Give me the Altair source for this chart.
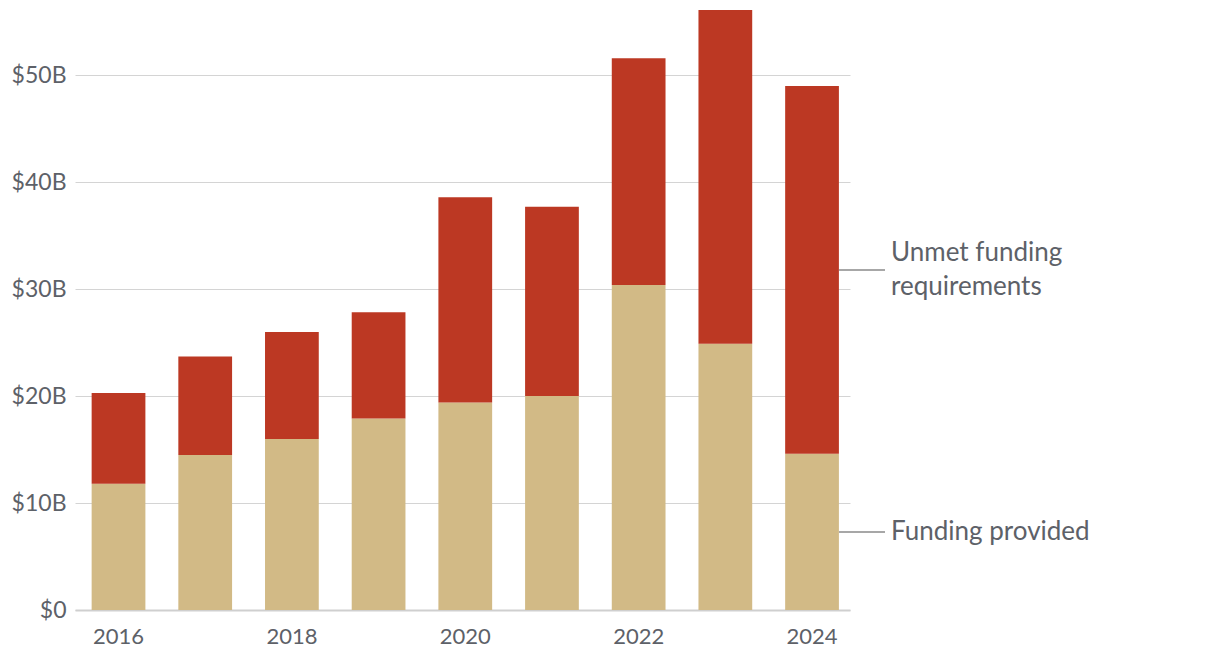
import altair as alt
import pandas as pd

years = ["2016", "2017", "2018", "2019", "2020", "2021", "2022", "2023", "2024"]
funding_provided = [11.8, 14.5, 16.0, 17.9, 19.4, 20.0, 30.4, 24.9, 14.6]
total_requirements = [20.3, 23.7, 26.0, 27.85, 38.6, 37.7, 51.6, 56.1, 49.0]
series_names = ["Funding provided", "Unmet funding requirements"]
series_colors = ["#D2BA86", "#BC3823"]
y_ticks = [0, 10, 20, 30, 40, 50]

rows = []
for y, f, t in zip(years, funding_provided, total_requirements):
    rows.append({"year": y, "series": series_names[0], "value": f, "order": 0})
    rows.append({"year": y, "series": series_names[1], "value": round(t - f, 3), "order": 1})
df = pd.DataFrame(rows)

last_f = funding_provided[-1]
last_t = total_requirements[-1]
ann_f = pd.DataFrame([{"year": years[-1], "mid": last_f / 2, "label": "Funding provided"}])
ann_u = pd.DataFrame([{"year": years[-1], "mid": (last_f + last_t) / 2,
                       "label": ["Unmet funding", "requirements"]}])
ann = pd.concat([ann_f[["year", "mid"]], ann_u[["year", "mid"]]])

FONT = "Lato"
TXT = "#5d6168"

x = alt.X("year:N", scale=alt.Scale(paddingInner=0.38, paddingOuter=0.16, align=0.6),
          axis=alt.Axis(title=None, labelAngle=0, ticks=False, domain=True,
                        domainColor="#cfcfcf", domainWidth=2,
                        labelExpr="toNumber(datum.value) % 2 == 0 ? datum.label : ''",
                        labelFontSize=22, labelColor=TXT, labelFont=FONT, labelPadding=16))
yscale = alt.Scale(domain=[0, 56.2], nice=False)

bars = alt.Chart(df).mark_bar().encode(
    x=x,
    y=alt.Y("value:Q", stack="zero", scale=yscale,
            axis=alt.Axis(title=None, values=y_ticks, domain=False, ticks=False,
                          gridColor="#d4d4d4", gridWidth=1,
                          labelExpr="'$' + datum.value + (datum.value == 0 ? '' : 'B')",
                          labelFontSize=23, labelColor=TXT, labelFont=FONT, labelPadding=9)),
    color=alt.Color("series:N", scale=alt.Scale(domain=series_names, range=series_colors), legend=None),
    order=alt.Order("order:Q"),
)

rules = alt.Chart(ann).mark_rule(color="#8a8a8a", strokeWidth=1.5, xOffset=27, x2Offset=73).encode(
    x=alt.X("year:N"), x2=alt.X2("year"), y=alt.Y("mid:Q", scale=yscale),
)

text_f = alt.Chart(ann_f).mark_text(align="left", baseline="middle", dx=79, font=FONT, fontSize=26,
                                    color=TXT).encode(
    x=alt.X("year:N"), y=alt.Y("mid:Q", scale=yscale), text="label",
)
text_u = alt.Chart(ann_u).mark_text(align="left", baseline="middle", dx=79, dy=-17, font=FONT,
                                    fontSize=26, color=TXT, lineHeight=34).encode(
    x=alt.X("year:N"), y=alt.Y("mid:Q", scale=yscale), text="label",
)

chart = alt.layer(bars, rules, text_f, text_u).properties(
    width=775, height=601,
    autosize=alt.AutoSizeParams(type="none"),
    padding={"left": 67, "top": 1, "right": 360, "bottom": 50},
).configure_view(stroke=None)

chart.save("out.html", embed_options={"renderer": "svg", "actions": False})
